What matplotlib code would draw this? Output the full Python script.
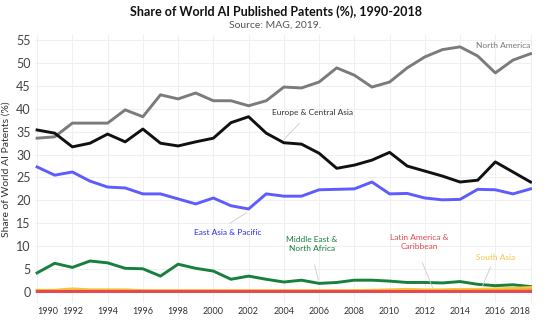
import matplotlib.pyplot as plt

plt.rcParams['font.family'] = ['Lato', 'DejaVu Sans']

years = list(range(1990, 2019))

north_america = [33.6, 33.9, 36.9, 36.9, 36.9, 39.8, 38.3, 43.1, 42.2, 43.5,
                 41.8, 41.8, 40.7, 41.8, 44.8, 44.6, 45.9, 49.0, 47.4, 44.8,
                 45.9, 49.0, 51.4, 53.0, 53.6, 51.6, 47.9, 50.7, 52.1]
europe_central_asia = [35.4, 34.7, 31.7, 32.5, 34.5, 32.8, 35.6, 32.5, 31.9, 32.8,
                       33.6, 37.0, 38.3, 34.7, 32.6, 32.3, 30.3, 27.0, 27.7, 28.8,
                       30.5, 27.5, 26.4, 25.3, 24.0, 24.4, 28.4, 26.2, 24.0]
east_asia_pacific = [27.3, 25.5, 26.2, 24.2, 22.9, 22.7, 21.4, 21.4, 20.3, 19.2,
                     20.5, 18.8, 18.1, 21.4, 20.9, 20.9, 22.3, 22.4, 22.5, 24.0,
                     21.4, 21.5, 20.5, 20.1, 20.2, 22.4, 22.3, 21.4, 22.5]
middle_east_north_africa = [4.1, 6.2, 5.3, 6.7, 6.3, 5.1, 5.0, 3.4, 6.0, 5.1,
                            4.5, 2.7, 3.4, 2.7, 2.1, 2.5, 1.8, 2.0, 2.5, 2.5,
                            2.3, 2.0, 2.0, 1.9, 2.2, 1.6, 1.3, 1.5, 1.1]
south_asia = [0.3, 0.3, 0.6, 0.4, 0.4, 0.4, 0.2, 0.2, 0.2, 0.2,
              0.2, 0.2, 0.2, 0.2, 0.2, 0.2, 0.2, 0.2, 0.2, 0.3,
              0.4, 0.5, 0.4, 0.4, 0.5, 0.5, 0.6, 0.7, 0.9]
sub_saharan_africa = [0.1, 0.1, 0.1, 0.1, 0.1, 0.1, 0.1, 0.1, 0.1, 0.1,
                      0.1, 0.1, 0.1, 0.1, 0.1, 0.1, 0.1, 0.1, 0.1, 0.1,
                      0.1, 0.1, 0.1, 0.1, 0.1, 0.2, 0.2, 0.3, 0.4]
latin_america_caribbean = [0.2, 0.2, 0.2, 0.2, 0.2, 0.2, 0.2, 0.2, 0.2, 0.2,
                           0.2, 0.2, 0.2, 0.2, 0.2, 0.2, 0.2, 0.2, 0.2, 0.2,
                           0.2, 0.2, 0.2, 0.2, 0.2, 0.2, 0.2, 0.2, 0.2]

fig = plt.figure(figsize=(5.51, 3.21), dpi=100)
ax = fig.add_axes([0.0635, 0.056, 0.902, 0.835])

ax.plot(years, north_america, color='#7b7b7b', lw=2.1)
ax.plot(years, europe_central_asia, color='#111111', lw=2.1)
ax.plot(years, east_asia_pacific, color='#5c5cff', lw=2.1)
ax.plot(years, middle_east_north_africa, color='#17803a', lw=2.1)
ax.plot(years, south_asia, color='#f5c443', lw=2.1)
ax.plot(years, sub_saharan_africa, color='#f2a03a', lw=2.1)
ax.plot(years, latin_america_caribbean, color='#e5484d', lw=2.1)

ax.set_xlim(1989.88, 2018.08)
ax.set_ylim(-2.5, 56.2)
ax.set_yticks(range(0, 56, 5))
ax.set_xticks(range(1990, 2019, 2))
ax.set_xticklabels([str(y) for y in range(1990, 2019, 2)])
ax.get_xticklabels()[0].set_ha('left')
ax.get_xticklabels()[-1].set_ha('right')
ax.tick_params(axis='x', length=0, labelsize=6.5, colors='#333333', pad=3)
ax.tick_params(axis='y', length=0, labelsize=9, colors='#444444', pad=3)
ax.grid(True, color='#f0f0f0', lw=0.8)
ax.set_axisbelow(True)
for s in ax.spines.values():
    s.set_visible(False)

ax.set_ylabel('Share of World AI Patents (%)', fontsize=7.5, color='#333333', labelpad=4)

fig.text(0.5, 0.965, 'Share of World AI Published Patents (%), 1990-2018',
         ha='center', va='center', fontsize=9, fontweight='bold', color='#111111')
fig.text(0.5, 0.922, 'Source: MAG, 2019.', ha='center', va='center',
         fontsize=7.5, color='#555555')

# series labels with thin leader lines
lab = dict(fontsize=6, ha='center', va='center')
ax.text(2018.0, 53.8, 'North America', color='#777777', ha='right', va='center', fontsize=6)
ax.text(2005.6, 39.3, 'Europe & Central Asia', color='#333333', **lab)
ax.annotate('', xy=(2003.9, 32.9), xytext=(2005.0, 37.3),
            arrowprops=dict(arrowstyle='-', color='#cccccc', lw=0.6))
ax.text(2000.8, 13.0, 'East Asia & Pacific', color='#2b2bff', **lab)
ax.annotate('', xy=(2002.0, 17.6), xytext=(2000.8, 14.6),
            arrowprops=dict(arrowstyle='-', color='#cccccc', lw=0.6))
ax.text(2005.6, 10.5, 'Middle East &\nNorth Africa', color='#17803a',
        linespacing=1.3, **lab)
ax.annotate('', xy=(2006.0, 1.9), xytext=(2005.7, 6.5),
            arrowprops=dict(arrowstyle='-', color='#cccccc', lw=0.6))
ax.text(2011.7, 10.9, 'Latin America &\nCaribbean', color='#e5484d',
        linespacing=1.3, **lab)
ax.annotate('', xy=(2012.5, 0.3), xytext=(2011.8, 6.9),
            arrowprops=dict(arrowstyle='-', color='#cccccc', lw=0.6))
ax.text(2016.0, 7.4, 'South Asia', color='#f5c443', **lab)
ax.annotate('', xy=(2015.2, 0.6), xytext=(2015.8, 6.0),
            arrowprops=dict(arrowstyle='-', color='#cccccc', lw=0.6))

fig.savefig('out.png', dpi=100)
